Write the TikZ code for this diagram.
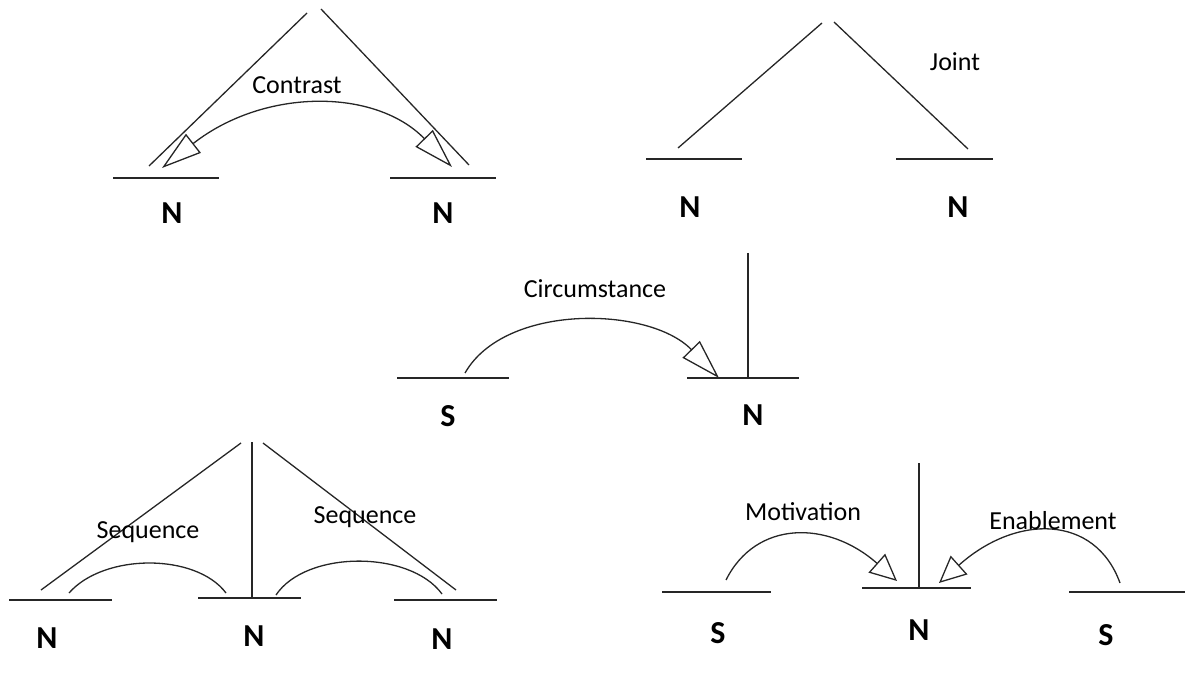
\documentclass[tikz,border=0pt]{standalone}
\usepackage{fontspec}
\setmainfont{Carlito}
\usetikzlibrary{arrows.meta}
\begin{document}
\begin{tikzpicture}[x=1pt,y=-1pt,
  ln/.style={line width=1.3pt, draw=black!85},
  lbl/.style={font=\fontsize{26}{30}\selectfont, inner sep=0pt},
  nl/.style={font=\fontsize{32}{36}\selectfont\bfseries, inner sep=0pt},
  bigtip/.style={-{Triangle[open,length=40pt,width=24pt]}},
  bothtip/.style={{Triangle[open,length=40pt,width=24pt]}-{Triangle[open,length=40pt,width=24pt]}},
  smalltip/.style={-{Triangle[open,length=27pt,width=25pt]}}]
\useasboundingbox (0,0) rectangle (1185,692);

% ---------- Contrast ----------
\coordinate (c1a) at (113,178); \coordinate (c1b) at (219,178);
\coordinate (c2a) at (390,178); \coordinate (c2b) at (496,178);
\coordinate (cdl1) at (149,166); \coordinate (cdl2) at (307,13);
\coordinate (cdr1) at (321,9);   \coordinate (cdr2) at (469,165);
\coordinate (carcL) at (162,168); \coordinate (carcR) at (452,167);
\draw[ln] (c1a) -- (c1b);
\draw[ln] (c2a) -- (c2b);
\draw[ln] (cdl1) -- (cdl2);
\draw[ln] (cdr1) -- (cdr2);
\draw[ln,bothtip] (carcL) .. controls (264,88) and (375,88) .. (carcR);
\node[lbl] (contrast) at (297,85) {Contrast};
\node[nl] (cN1) at (172,213) {N};
\node[nl] (cN2) at (443,213) {N};

% ---------- Joint ----------
\coordinate (j1a) at (646,159); \coordinate (j1b) at (742,159);
\coordinate (j2a) at (896,159); \coordinate (j2b) at (993,159);
\coordinate (jdl1) at (678,148); \coordinate (jdl2) at (822,23);
\coordinate (jdr1) at (834,22);  \coordinate (jdr2) at (968,149);
\draw[ln] (j1a) -- (j1b);
\draw[ln] (j2a) -- (j2b);
\draw[ln] (jdl1) -- (jdl2);
\draw[ln] (jdr1) -- (jdr2);
\node[lbl] (joint) at (955,62) {Joint};
\node[nl] (jN1) at (690,207) {N};
\node[nl] (jN2) at (958,207) {N};

% ---------- Circumstance ----------
\coordinate (ciSa) at (397,378); \coordinate (ciSb) at (509,378);
\coordinate (ciNa) at (687,378); \coordinate (ciNb) at (799,378);
\coordinate (civt) at (748,253); \coordinate (civb) at (748,378);
\coordinate (ciarcS) at (465,373); \coordinate (ciarcE) at (719,378);
\draw[ln] (ciSa) -- (ciSb);
\draw[ln] (ciNa) -- (ciNb);
\draw[ln] (civt) -- (civb);
\draw[ln,bigtip] (ciarcS) .. controls (505,303) and (649,306) .. (ciarcE);
\node[lbl] (circ) at (595,289) {Circumstance};
\node[nl] (ciS) at (448,416) {S};
\node[nl] (ciN) at (753,415) {N};

% ---------- Sequence ----------
\coordinate (s1a) at (9,600);   \coordinate (s1b) at (112,600);
\coordinate (s2a) at (198,598); \coordinate (s2b) at (301,598);
\coordinate (s3a) at (394,600); \coordinate (s3b) at (497,600);
\coordinate (svt) at (252,442); \coordinate (svb) at (252,598);
\coordinate (sdl1) at (41,590);  \coordinate (sdl2) at (241,443);
\coordinate (sdr1) at (263,443); \coordinate (sdr2) at (456,590);
\coordinate (sa1s) at (69,593);  \coordinate (sa1e) at (226,593);
\coordinate (sa2s) at (276,595); \coordinate (sa2e) at (442,594);
\draw[ln] (s1a) -- (s1b);
\draw[ln] (s2a) -- (s2b);
\draw[ln] (s3a) -- (s3b);
\draw[ln] (svt) -- (svb);
\draw[ln] (sdl1) -- (sdl2);
\draw[ln] (sdr1) -- (sdr2);
\draw[ln] (sa1s) .. controls (104,553) and (196,553) .. (sa1e);
\draw[ln] (sa2s) .. controls (306,550) and (410,550) .. (sa2e);
\node[lbl] (seq1) at (148,532) {Sequence};
\node[lbl] (seq2) at (365,517) {Sequence};
\node[nl] (sN1) at (47,638) {N};
\node[nl] (sN2) at (254,636) {N};
\node[nl] (sN3) at (442,639) {N};

% ---------- Motivation / Enablement ----------
\coordinate (m1a) at (662,592);  \coordinate (m1b) at (771,592);
\coordinate (m2a) at (862,588);  \coordinate (m2b) at (971,588);
\coordinate (m3a) at (1069,592); \coordinate (m3b) at (1185,592);
\coordinate (mvt) at (919,463);  \coordinate (mvb) at (919,588);
\coordinate (marcS) at (726,580);  \coordinate (marcE) at (897,581);
\coordinate (earcS) at (1120,583); \coordinate (earcE) at (939,583);
\draw[ln] (m1a) -- (m1b);
\draw[ln] (m2a) -- (m2b);
\draw[ln] (m3a) -- (m3b);
\draw[ln] (mvt) -- (mvb);
\draw[ln,smalltip] (marcS) .. controls (756,520) and (828,520) .. (marcE);
\draw[ln,smalltip] (earcS) .. controls (1095,514) and (1016,514) .. (earcE);
\node[lbl] (motiv) at (803,512) {Motivation};
\node[lbl] (enab) at (1053,521) {Enablement};
\node[nl] (mS1) at (718,633) {S};
\node[nl] (mN) at (919,630) {N};
\node[nl] (mS2) at (1106,635) {S};
\end{tikzpicture}
\end{document}
